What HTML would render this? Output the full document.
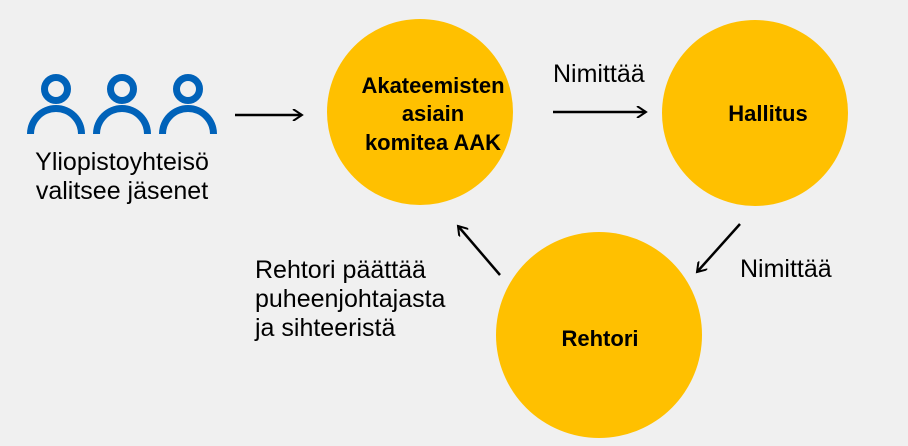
<!DOCTYPE html>
<html><head><style>
body{margin:0;background:#f0f0f0;}
svg{display:block}
text{font-family:"Liberation Sans",sans-serif;}
</style></head><body>
<svg width="908" height="446" viewBox="0 0 908 446">
<rect width="908" height="446" fill="#f0f0f0"/>
<defs>
<g id="p">
<circle cx="0" cy="-16" r="11.5" fill="none" stroke="#0062b9" stroke-width="7"/>
<path d="M-29,29 A29,29 0 0 1 29,29 L22,29 A22,22 0 0 0 -22,29 Z" fill="#0062b9"/>
</g>
<marker id="a" markerWidth="12" markerHeight="12" refX="10" refY="6" orient="auto" markerUnits="userSpaceOnUse">
<path d="M1,0 L10,6 L1,12" fill="none" stroke="#000" stroke-width="2"/>
</marker>
</defs>
<use href="#p" x="56" y="105"/>
<use href="#p" x="122" y="105"/>
<use href="#p" x="188" y="105"/>
<text x="122" y="170" font-size="25" text-anchor="middle">Yliopistoyhteisö</text>
<text x="122" y="199" font-size="25" text-anchor="middle">valitsee jäsenet</text>
<circle cx="420" cy="112" r="93" fill="#ffc000"/>
<circle cx="755" cy="113" r="93" fill="#ffc000"/>
<circle cx="599" cy="335" r="103" fill="#ffc000"/>
<g font-size="22" font-weight="bold" text-anchor="middle">
<text x="433" y="93">Akateemisten</text>
<text x="433" y="121">asiain</text>
<text x="433" y="150">komitea AAK</text>
<text x="768" y="121">Hallitus</text>
<text x="600" y="346">Rehtori</text>
</g>
<g font-size="25">
<text x="553" y="82">Nimittää</text>
<text x="740" y="277">Nimittää</text>
<text x="255" y="278">Rehtori päättää</text>
<text x="255" y="307">puheenjohtajasta</text>
<text x="255" y="336">ja sihteeristä</text>
</g>
<g stroke="#000" stroke-width="2.5" fill="none">
<line x1="235" y1="115" x2="302" y2="115" marker-end="url(#a)"/>
<line x1="553" y1="112" x2="646" y2="112" marker-end="url(#a)"/>
<line x1="740" y1="224" x2="697" y2="272" marker-end="url(#a)"/>
<line x1="500" y1="275" x2="458" y2="226" marker-end="url(#a)"/>
</g>
</svg>
</body></html>
